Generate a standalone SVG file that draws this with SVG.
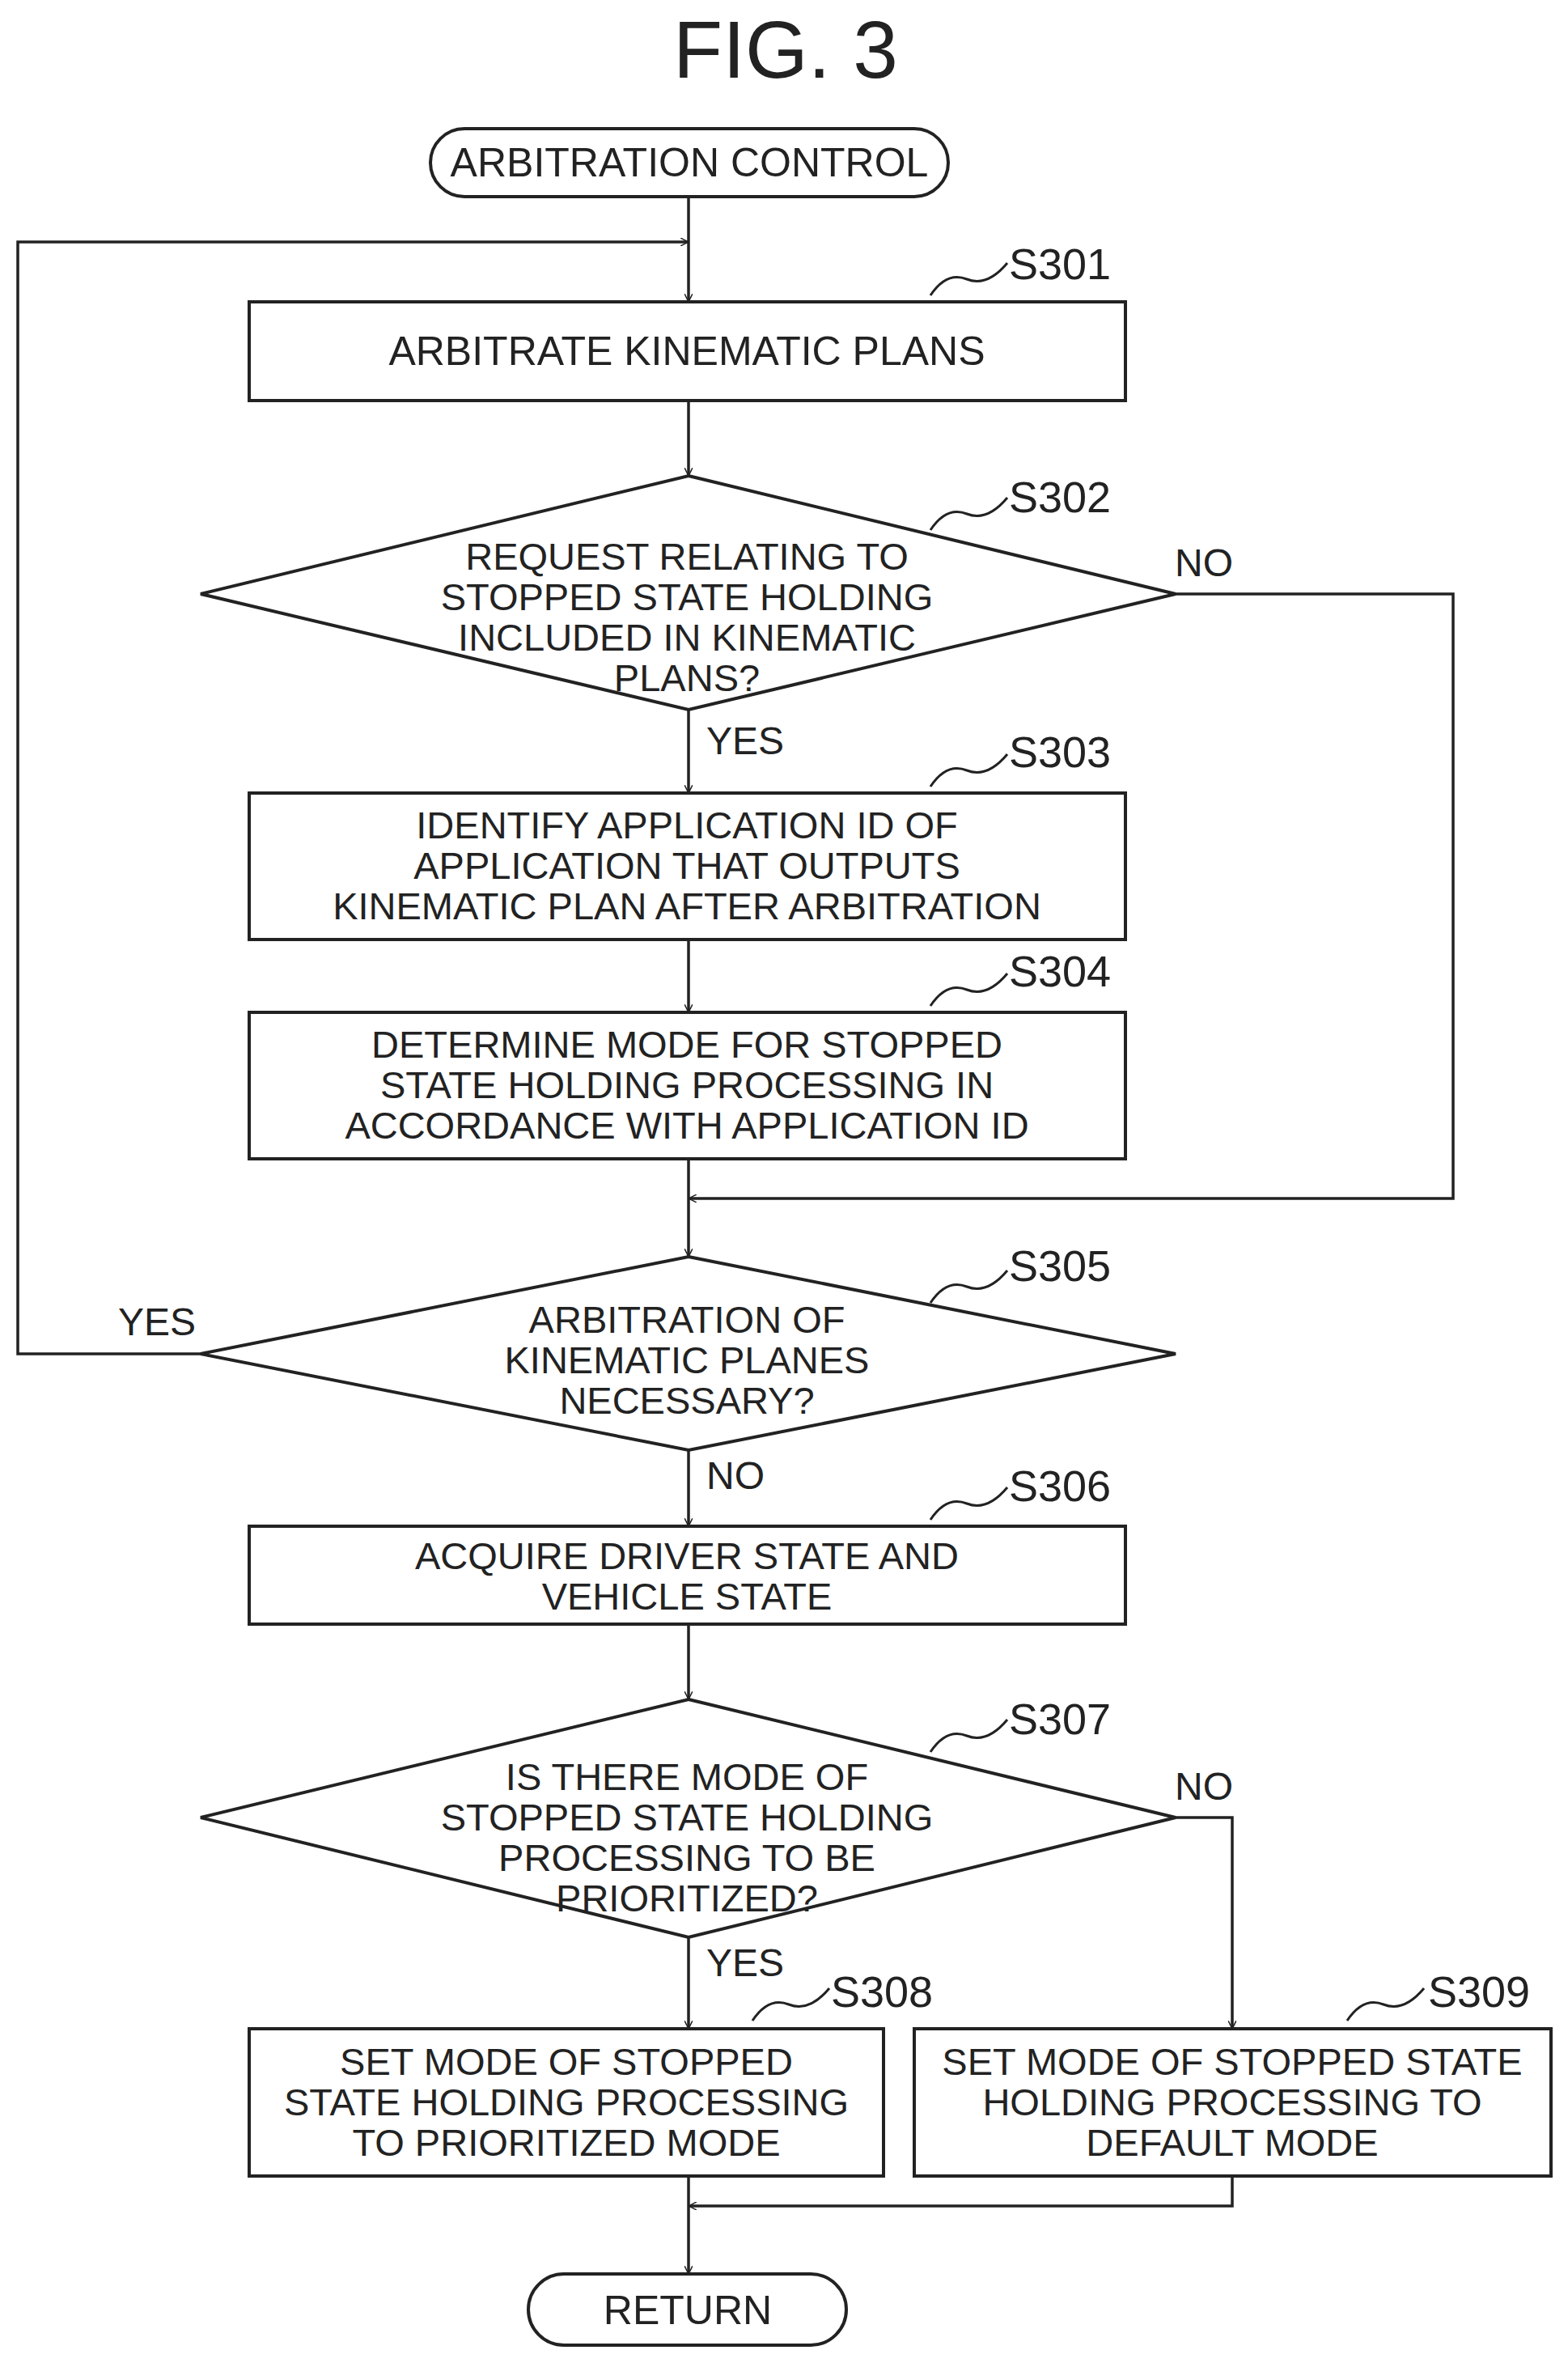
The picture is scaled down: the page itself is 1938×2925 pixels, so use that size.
<svg xmlns="http://www.w3.org/2000/svg" width="1938" height="2925" viewBox="0 0 1938 2925">
<defs><marker id="a" viewBox="0 0 10 10" refX="10" refY="5" markerWidth="10" markerHeight="10" markerUnits="userSpaceOnUse" orient="auto"><path d="M0,0 L10,5 L0,10" fill="none" stroke="#222" stroke-width="1.5"/></marker></defs>
<style>
.s{fill:#fff;stroke:#222;stroke-width:4}
.c{fill:none;stroke:#222;stroke-width:3.5}
.t{font-family:"Liberation Sans",Arial,sans-serif;font-size:47px;fill:#222;text-anchor:middle}
.l{font-family:"Liberation Sans",Arial,sans-serif;font-size:54px;fill:#222}
.q{fill:none;stroke:#222;stroke-width:3}
</style>
<rect width="1938" height="2925" fill="#fff"/>
<text x="971" y="96" class="t" style="font-size:100px">FIG. 3</text>
<g id="connectors">
<path class="c" d="M851 243V373" marker-end="url(#a)"/>
<path class="c" d="M851 495V588" marker-end="url(#a)"/>
<path class="c" d="M851 877V980" marker-end="url(#a)"/>
<path class="c" d="M851 1161V1251" marker-end="url(#a)"/>
<path class="c" d="M851 1432V1553" marker-end="url(#a)"/>
<path class="c" d="M1453 734H1796V1481H851" marker-end="url(#a)"/>
<path class="c" d="M248 1673H22V299H851" marker-end="url(#a)"/>
<path class="c" d="M851 1792V1886" marker-end="url(#a)"/>
<path class="c" d="M851 2007V2100" marker-end="url(#a)"/>
<path class="c" d="M851 2394V2507" marker-end="url(#a)"/>
<path class="c" d="M1453 2246H1523V2507" marker-end="url(#a)"/>
<path class="c" d="M851 2689V2810" marker-end="url(#a)"/>
<path class="c" d="M1523 2689V2726H851" marker-end="url(#a)"/>
<text x="1452" y="712" class="l" style="font-size:48px">NO</text>
<text x="873" y="932" class="l" style="font-size:48px">YES</text>
<text x="146" y="1650" class="l" style="font-size:48px">YES</text>
<text x="873" y="1840" class="l" style="font-size:48px">NO</text>
<text x="1452" y="2224" class="l" style="font-size:48px">NO</text>
<text x="873" y="2442" class="l" style="font-size:48px">YES</text>
</g>
<g id="start"><rect class="s" x="532" y="159" width="640" height="84" rx="42"/><text x="852" y="218" class="t" style="font-size:50px">ARBITRATION CONTROL</text></g>
<g id="S301"><rect class="s" x="308" y="373" width="1083" height="122"/><text x="849" y="451" class="t" style="font-size:50px">ARBITRATE KINEMATIC PLANS</text><path class="q" d="M1150 365q20-30 45-20t50-20"/><text x="1247" y="345" class="l">S301</text></g>
<g id="S302"><polygon class="s" points="851,588 1453,734 851,877 248,734"/><text class="t"><tspan x="849" y="704">REQUEST RELATING TO</tspan><tspan x="849" y="754">STOPPED STATE HOLDING</tspan><tspan x="849" y="804">INCLUDED IN KINEMATIC</tspan><tspan x="849" y="854">PLANS?</tspan></text><path class="q" d="M1150 655q20-30 45-20t50-20"/><text x="1247" y="633" class="l">S302</text></g>
<g id="S303"><rect class="s" x="308" y="980" width="1083" height="181"/><text class="t"><tspan x="849" y="1036">IDENTIFY APPLICATION ID OF</tspan><tspan x="849" y="1086">APPLICATION THAT OUTPUTS</tspan><tspan x="849" y="1136">KINEMATIC PLAN AFTER ARBITRATION</tspan></text><path class="q" d="M1150 972q20-30 45-20t50-20"/><text x="1247" y="948" class="l">S303</text></g>
<g id="S304"><rect class="s" x="308" y="1251" width="1083" height="181"/><text class="t"><tspan x="849" y="1307">DETERMINE MODE FOR STOPPED</tspan><tspan x="849" y="1357">STATE HOLDING PROCESSING IN</tspan><tspan x="849" y="1407">ACCORDANCE WITH APPLICATION ID</tspan></text><path class="q" d="M1150 1243q20-30 45-20t50-20"/><text x="1247" y="1219" class="l">S304</text></g>
<g id="S305"><polygon class="s" points="851,1553 1453,1673 851,1792 248,1673"/><text class="t"><tspan x="849" y="1647">ARBITRATION OF</tspan><tspan x="849" y="1697">KINEMATIC PLANES</tspan><tspan x="849" y="1747">NECESSARY?</tspan></text><path class="q" d="M1150 1610q20-30 45-20t50-20"/><text x="1247" y="1583" class="l">S305</text></g>
<g id="S306"><rect class="s" x="308" y="1886" width="1083" height="121"/><text class="t"><tspan x="849" y="1939">ACQUIRE DRIVER STATE AND</tspan><tspan x="849" y="1989">VEHICLE STATE</tspan></text><path class="q" d="M1150 1878q20-30 45-20t50-20"/><text x="1247" y="1855" class="l">S306</text></g>
<g id="S307"><polygon class="s" points="851,2100 1453,2246 851,2394 248,2246"/><text class="t"><tspan x="849" y="2212">IS THERE MODE OF</tspan><tspan x="849" y="2262">STOPPED STATE HOLDING</tspan><tspan x="849" y="2312">PROCESSING TO BE</tspan><tspan x="849" y="2362">PRIORITIZED?</tspan></text><path class="q" d="M1150 2165q20-30 45-20t50-20"/><text x="1247" y="2143" class="l">S307</text></g>
<g id="S308"><rect class="s" x="308" y="2507" width="784" height="182"/><text class="t"><tspan x="700" y="2564">SET MODE OF STOPPED</tspan><tspan x="700" y="2614">STATE HOLDING PROCESSING</tspan><tspan x="700" y="2664">TO PRIORITIZED MODE</tspan></text><path class="q" d="M930 2497q20-30 45-20t50-20"/><text x="1027" y="2480" class="l">S308</text></g>
<g id="S309"><rect class="s" x="1130" y="2507" width="787" height="182"/><text class="t"><tspan x="1523" y="2564">SET MODE OF STOPPED STATE</tspan><tspan x="1523" y="2614">HOLDING PROCESSING TO</tspan><tspan x="1523" y="2664">DEFAULT MODE</tspan></text><path class="q" d="M1665 2497q20-30 45-20t50-20"/><text x="1765" y="2480" class="l">S309</text></g>
<g id="end"><rect class="s" x="653" y="2810" width="393" height="88" rx="44"/><text x="850" y="2872" class="t" style="font-size:50px">RETURN</text></g>
</svg>
